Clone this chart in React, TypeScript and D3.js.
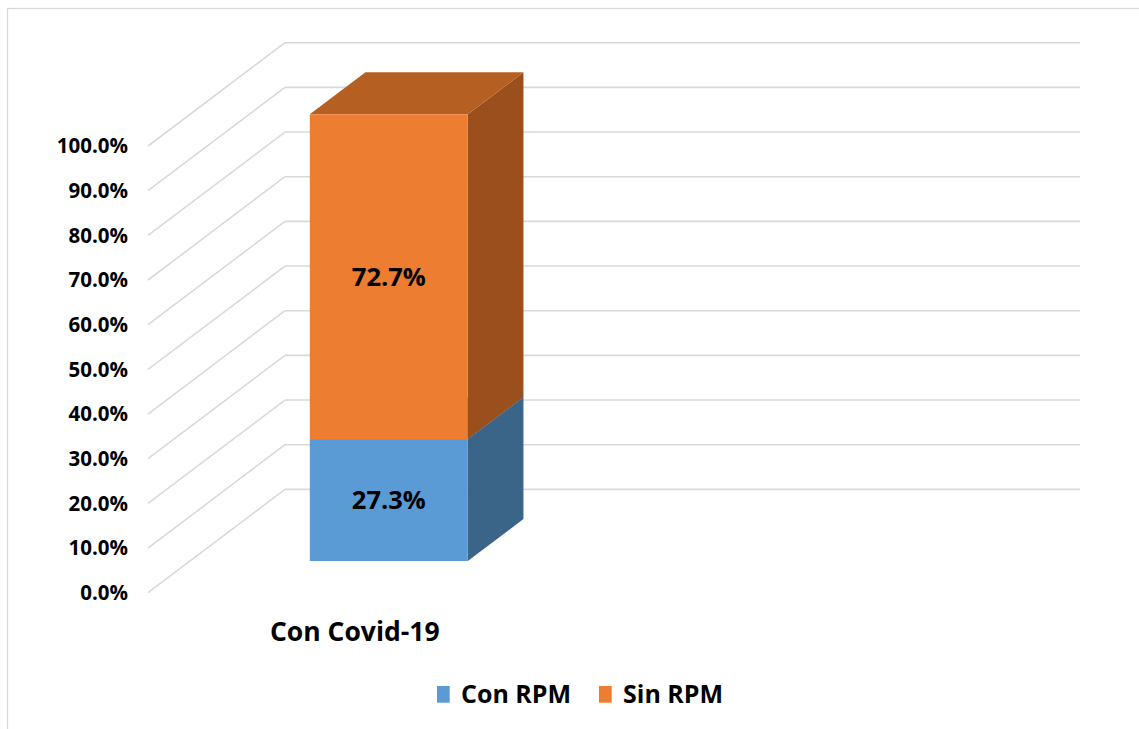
import React from 'react';
import * as d3 from 'd3';

const categories = ['Con Covid-19', ''];
const series = ['Con RPM', 'Sin RPM'];
const conRpm = [0.273, 0];
const sinRpm = [0.727, 0];
const tickValues = [0, 0.1, 0.2, 0.3, 0.4, 0.5, 0.6, 0.7, 0.8, 0.9, 1];

const W = 1139;
const H = 729;
const FONT = '"Open Sans", "Liberation Sans", sans-serif';

// front plane and depth offsets of the 3D floor
const frontLeft = 148;
const frontRight = 943;
const DX = 137;
const DY = 103.3;
const z0 = 0.307;
const z1 = 0.713;

const faces = {
  'Con RPM': { front: '#5B9BD5', side: '#3B6489', top: '#4A7FB0' },
  'Sin RPM': { front: '#ED7D31', side: '#9B4F1D', top: '#B65F22' },
};

const App = () => {
  const y = d3.scaleLinear().domain([0, 1]).range([592.7, 146]);
  const x = d3.scaleBand().domain(categories).range([frontLeft, frontRight]).paddingInner(0).paddingOuter(0);
  const barW = 158;

  const pt = (px: number, v: number, z: number) => [px + z * DX, y(v) - z * DY];
  const poly = (pts: number[][]) => pts.map((p) => p.join(',')).join(' ');

  const stacked = d3.stack<any>().keys(series)(
    categories.map((c, i) => ({ cat: c, 'Con RPM': conRpm[i], 'Sin RPM': sinRpm[i] }))
  );

  return (
    <svg width={W} height={H} style={{ position: 'absolute', left: 0, top: 0 }} fontFamily={FONT}>
      <rect x={7.5} y={8.5} width={W} height={H} fill="#fff" stroke="#d9d9d9" strokeWidth={1.3} />

      {tickValues.map((t) => (
        <g key={t} stroke="#d9d9d9" strokeWidth={1.6} fill="none">
          <line x1={frontLeft} y1={y(t)} x2={frontLeft + DX} y2={y(t) - DY} />
          <line x1={frontLeft + DX} y1={y(t) - DY} x2={frontRight + DX} y2={y(t) - DY} />
        </g>
      ))}

      {tickValues.map((t) => (
        <text
          key={'l' + t}
          x={128}
          y={y(t)}
          dy="0.35em"
          textAnchor="end"
          fontWeight="bold"
          fontSize={20.5}
        >
          {d3.format('.1%')(t)}
        </text>
      ))}

      {stacked.map((s) =>
        s.map((d, i) => {
          const v0 = d[0];
          const v1 = d[1];
          if (v1 - v0 <= 0) return null;
          const cx = (x(categories[i]) as number) + x.bandwidth() / 2;
          const bx0 = cx - barW / 2;
          const bx1 = cx + barW / 2;
          const f = faces[s.key as 'Con RPM' | 'Sin RPM'];
          const [fx0, fy1] = pt(bx0, v1, z0);
          const [fx1, fy0] = pt(bx1, v0, z0);
          return (
            <g key={s.key + i}>
              <polygon
                points={poly([pt(bx1, v0, z0), pt(bx1, v0, z1), pt(bx1, v1, z1), pt(bx1, v1, z0)])}
                fill={f.side}
              />
              <polygon
                points={poly([pt(bx0, v1, z0), pt(bx0, v1, z1), pt(bx1, v1, z1), pt(bx1, v1, z0)])}
                fill={f.top}
              />
              <rect x={fx0} y={fy1} width={fx1 - fx0} height={fy0 - fy1} fill={f.front} />
              <text
                x={(fx0 + fx1) / 2}
                y={(fy0 + fy1) / 2}
                dy="0.35em"
                textAnchor="middle"
                fontWeight="bold"
                fontSize={25.5}
              >
                {d3.format('.1%')(v1 - v0)}
              </text>
            </g>
          );
        })
      )}

      {categories.map((c) => (
        <text
          key={'c' + c}
          x={(x(c) as number) + x.bandwidth() / 2 + 8}
          y={632}
          dy="0.35em"
          textAnchor="middle"
          fontWeight="bold"
          fontSize={26.5}
        >
          {c}
        </text>
      ))}

      <g>
        <rect x={437} y={686} width={12.7} height={16.7} fill={faces['Con RPM'].front} />
        <text x={461} y={694.5} dy="0.35em" fontWeight="bold" fontSize={25}>
          {series[0]}
        </text>
        <rect x={599} y={686} width={12.7} height={16.7} fill={faces['Sin RPM'].front} />
        <text x={623} y={694.5} dy="0.35em" fontWeight="bold" fontSize={25}>
          {series[1]}
        </text>
      </g>
    </svg>
  );
};

export default App;
